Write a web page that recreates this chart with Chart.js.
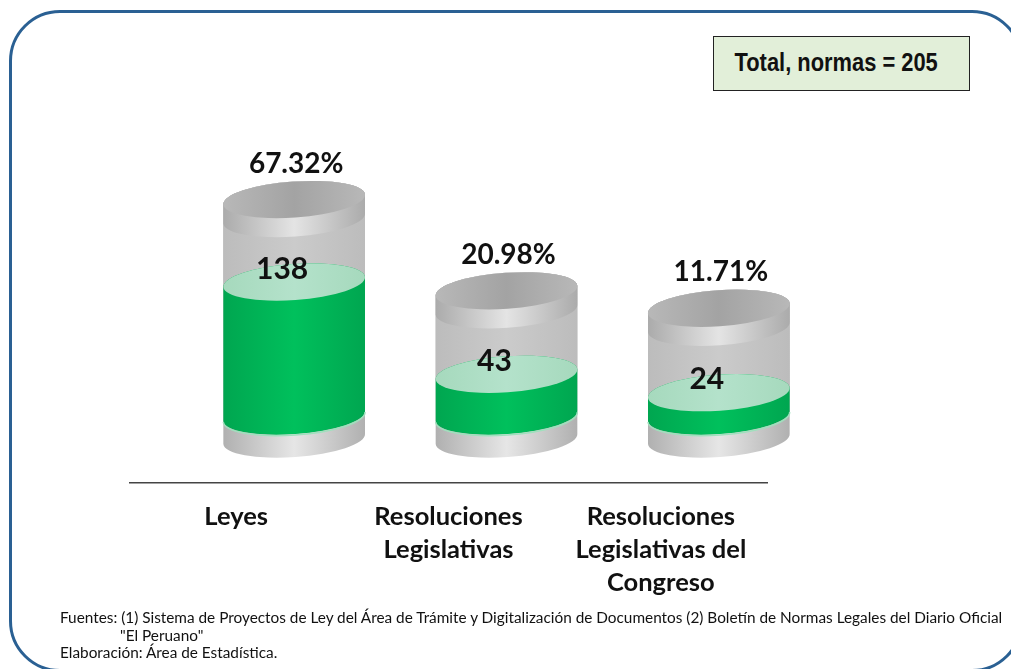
<!DOCTYPE html>
<html>
<head>
    <title>Total, normas</title>
    <script src="https://cdn.jsdelivr.net/npm/chart.js"></script>
    <style>
        html, body { margin: 0; padding: 0; background: #ffffff; overflow: hidden; }
        #page { position: relative; width: 1011px; height: 669px; overflow: hidden; }
        #frame {
            position: absolute; left: 9px; top: 10px; width: 1014px; height: 662px;
            border: 3px solid #2a6093; border-radius: 51px; box-sizing: border-box;
        }
        #chart { position: absolute; left: 0; top: 0; }
        #total {
            position: absolute; left: 713px; top: 36px; width: 257px; height: 55px; box-sizing: border-box;
            background: #e2efd9; border: 1px solid #222222;
            font: bold 25px 'Liberation Sans', sans-serif; color: #111111;
            line-height: 50px; text-align: center; white-space: nowrap;
        }
        #total span { display: inline-block; transform: translateX(-5px) scaleX(0.875); }
        #notes {
            position: absolute; left: 60px; top: 609px; width: 950px;
            font: 15.35px/17.5px Lato, sans-serif; color: #111111;
        }
        #notes div { white-space: nowrap; }
        #notes .indent { padding-left: 60px; }
    </style>
</head>
<body>
<div id="page">
    <div id="frame"></div>
    <canvas id="chart" width="1011" height="669"></canvas>
    <div id="total"><span>Total, normas = 205</span></div>
    <div id="notes">
        <div>Fuentes: (1) Sistema de Proyectos de Ley del Área de Trámite y Digitalización de Documentos (2) Boletín de Normas Legales del Diario Oficial</div>
        <div class="indent">"El Peruano"</div>
        <div>Elaboración: Área de Estadística.</div>
    </div>
</div>
<script>
    const categories = ['Leyes', ['Resoluciones', 'Legislativas'], ['Resoluciones', 'Legislativas del', 'Congreso']];
    const normas = [138, 43, 24];
    const emptySpace = [85, 86, 87];
    const percentLabels = ['67.32%', '20.98%', '11.71%'];

    // the cylinders sit to the right of their axis labels in the original
    const CYL_SHIFT = 58;
    const BASE_DROP = 23;
    const LID = 19;
    const RY = 18;
    const TILT = -0.07;

    function sideGradient(ctx, x0, x1, edge, mid) {
        const g = ctx.createLinearGradient(x0, 0, x1, 0);
        g.addColorStop(0, edge);
        g.addColorStop(0.5, mid);
        g.addColorStop(1, edge);
        return g;
    }

    function body(ctx, cx, rx, yTop, yBottom, fill) {
        ctx.beginPath();
        ctx.ellipse(cx, yTop, rx, RY, TILT, Math.PI, 0, false);
        ctx.ellipse(cx, yBottom, rx, RY, TILT, 0, Math.PI, false);
        ctx.closePath();
        ctx.fillStyle = fill;
        ctx.fill();
    }

    function disc(ctx, cx, rx, y, fill) {
        ctx.beginPath();
        ctx.ellipse(cx, y, rx, RY, TILT, 0, Math.PI * 2);
        ctx.fillStyle = fill;
        ctx.fill();
    }

    const cylinders = {
        id: 'cylinders',
        afterDatasetsDraw(chart) {
            const ctx = chart.ctx;
            const green = chart.getDatasetMeta(0).data;
            const shell = chart.getDatasetMeta(1).data;
            ctx.save();
            green.forEach((bar, i) => {
                const cx = bar.x + CYL_SHIFT;
                const rx = bar.width / 2;
                const x0 = cx - rx;
                const x1 = cx + rx;
                const yGreen = bar.y;
                const yBase = bar.base;
                const yTop = shell[i].y;

                // glass shell and foot
                body(ctx, cx, rx, yTop, yBase + BASE_DROP, sideGradient(ctx, x0, x1, '#b0b0b0', '#e6e6e6'));
                body(ctx, cx, rx, yTop, yGreen, sideGradient(ctx, x0, x1, '#bcbcbc', '#cbcbcb'));

                // liquid
                body(ctx, cx, rx, yGreen, yBase, sideGradient(ctx, x0, x1, '#00a650', '#00c05c'));
                ctx.beginPath();
                ctx.ellipse(cx, yBase + 1, rx, RY, TILT, 0, Math.PI, false);
                ctx.strokeStyle = '#9fe0bd';
                ctx.lineWidth = 1.5;
                ctx.stroke();
                disc(ctx, cx, rx, yGreen, sideGradient(ctx, x0, x1, '#a6d9bd', '#b4e2cb'));

                // lid
                body(ctx, cx, rx, yTop, yTop + LID, sideGradient(ctx, x0, x1, '#ababab', '#e4e4e4'));
                disc(ctx, cx, rx, yTop, sideGradient(ctx, x0, x1, '#b8b8b8', '#a3a3a3'));
            });

            ctx.fillStyle = '#111111';
            ctx.textAlign = 'center';
            ctx.textBaseline = 'middle';
            green.forEach((bar, i) => {
                ctx.font = 'bold 30px Lato, sans-serif';
                ctx.fillText(String(normas[i]), bar.x + CYL_SHIFT - 12, bar.y - 13);
                ctx.font = 'bold 28px Lato, sans-serif';
                ctx.fillText(percentLabels[i], bar.x + CYL_SHIFT + 2, shell[i].y - 36);
            });
            ctx.restore();
        }
    };

    new Chart(document.getElementById('chart'), {
        type: 'bar',
        data: {
            labels: categories,
            datasets: [
                { label: 'Normas', data: normas, backgroundColor: 'transparent', barThickness: 142 },
                { label: 'Espacio', data: emptySpace, backgroundColor: 'transparent', barThickness: 142 }
            ]
        },
        options: {
            responsive: false,
            animation: false,
            layout: { padding: { left: 130, right: 244, top: 150, bottom: 0 } },
            plugins: { legend: { display: false }, tooltip: { enabled: false } },
            scales: {
                x: {
                    stacked: true,
                    afterFit(scale) { scale.height = 186; },
                    grid: { display: false, drawTicks: false },
                    border: { display: true, color: '#444444', width: 1.5 },
                    ticks: {
                        color: '#111111',
                        padding: 17,
                        maxRotation: 0,
                        autoSkip: false,
                        font: { family: 'Lato, sans-serif', weight: 'bold', size: 25.5, lineHeight: 1.3 }
                    }
                },
                y: { stacked: true, display: false, min: -69, max: 274 }
            }
        },
        plugins: [cylinders]
    });
</script>
</body>
</html>
